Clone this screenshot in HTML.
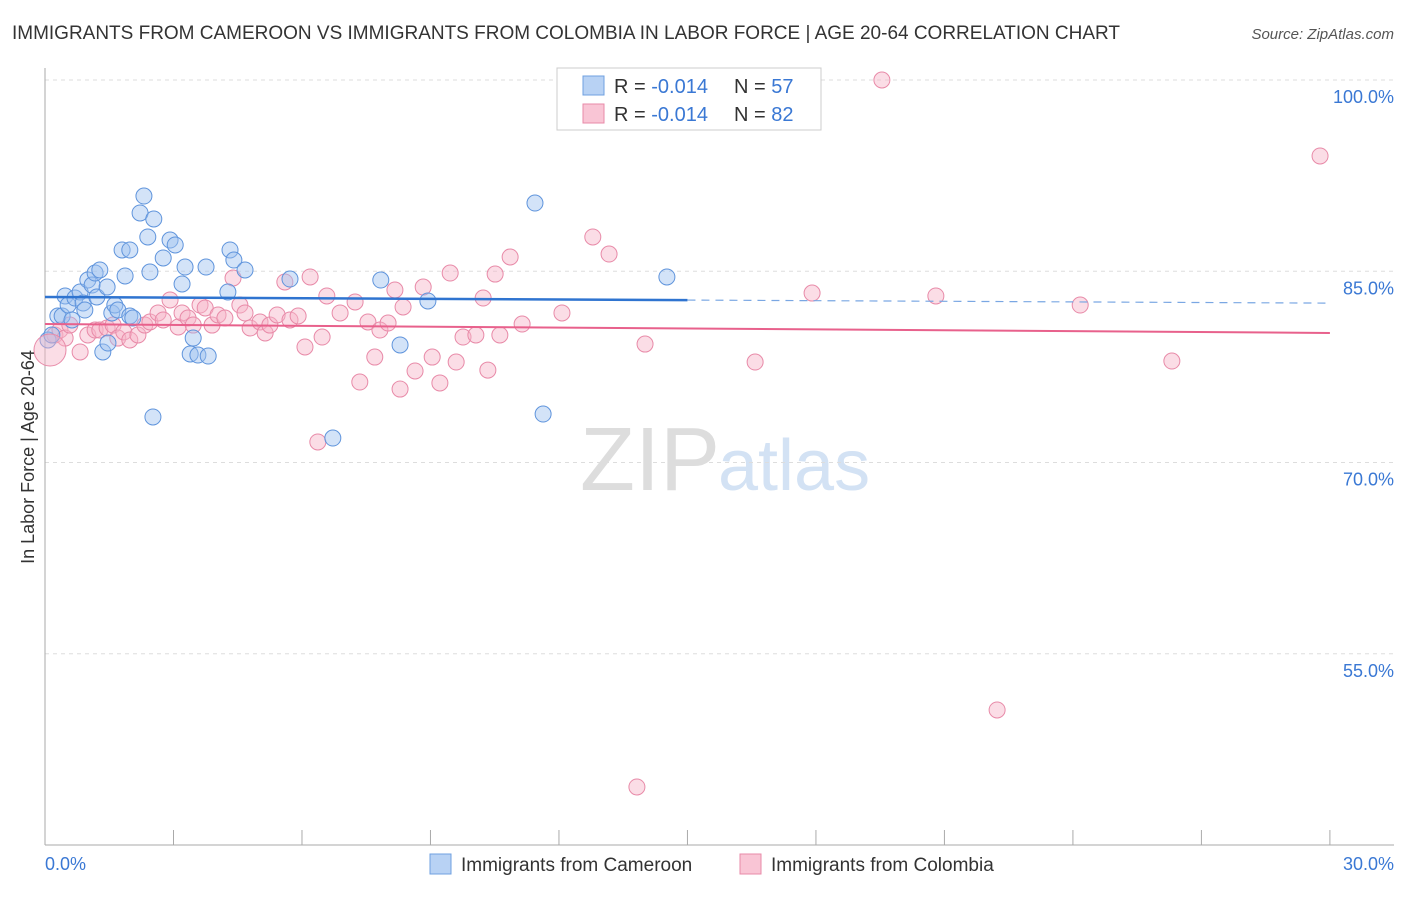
<!DOCTYPE html>
<html><head><meta charset="utf-8"><style>
body{margin:0;background:#fff;font-family:"Liberation Sans",sans-serif;}
svg text{font-family:"Liberation Sans",sans-serif;}
</style></head><body>
<svg id="c" width="1406" height="892">
<text x="12" y="39" font-size="19" fill="#333" textLength="1108">IMMIGRANTS FROM CAMEROON VS IMMIGRANTS FROM COLOMBIA IN LABOR FORCE | AGE 20-64 CORRELATION CHART</text>
<text x="1394" y="39" font-size="15" fill="#555" text-anchor="end" font-style="italic">Source: ZipAtlas.com</text>
<text x="720" y="490" font-size="90" fill="#ddd" text-anchor="end" font-family="Liberation Serif">ZIP</text>
<text x="718" y="490" font-size="72" fill="#d3e2f4">atlas</text>
<g id="grid"></g><g id="axes"></g><g id="pts"></g><g id="lines"></g>
<text transform="translate(34,457) rotate(-90)" font-size="18" fill="#333" text-anchor="middle">In Labor Force | Age 20-64</text>
<text x="45" y="870" font-size="18" fill="#3a78d4">0.0%</text>
<text x="1394" y="870" font-size="18" fill="#3a78d4" text-anchor="end">30.0%</text>
<g>
<rect x="557" y="68" width="264" height="62" fill="#fff" stroke="#ccc"/>
<rect x="583" y="76" width="21" height="19" fill="#b8d2f4" stroke="#6fa0e0"/>
<rect x="583" y="104" width="21" height="19" fill="#f9c5d5" stroke="#e88aa8"/>
<text x="614" y="93" font-size="20" fill="#333">R = <tspan fill="#3a78d4">-0.014</tspan></text>
<text x="734" y="93" font-size="20" fill="#333">N = <tspan fill="#3a78d4">57</tspan></text>
<text x="614" y="121" font-size="20" fill="#333">R = <tspan fill="#3a78d4">-0.014</tspan></text>
<text x="734" y="121" font-size="20" fill="#333">N = <tspan fill="#3a78d4">82</tspan></text>
</g>
<g>
<rect x="430" y="854" width="21" height="20" fill="#b8d2f4" stroke="#6fa0e0"/>
<text x="461" y="871" font-size="19" fill="#333">Immigrants from Cameroon</text>
<rect x="740" y="854" width="21" height="20" fill="#f9c5d5" stroke="#e88aa8"/>
<text x="771" y="871" font-size="19" fill="#333">Immigrants from Colombia</text>
</g>
</svg>
<script>
const yTicks=[100,85,70,55];
const xTicks=[0,3,6,9,12,15,18,21,24,27,30];
const bluePx=[[48,340],[52,335],[58,316],[62,316],[65,296],[68,305],[72,320],[75,298],[80,292],[83,303],[85,310],[88,280],[92,285],[95,273],[97,297],[100,270],[103,352],[108,343],[107,287],[112,313],[115,305],[118,310],[122,250],[125,276],[130,250],[130,316],[133,318],[140,213],[144,196],[148,237],[150,272],[154,219],[153,417],[163,258],[170,240],[175,245],[182,284],[185,267],[190,354],[193,338],[198,355],[206,267],[208,356],[228,292],[230,250],[234,260],[245,270],[290,279],[333,438],[381,280],[400,345],[428,301],[535,203],[543,414],[667,277]];
const pinkPx=[[55,335],[60,330],[65,338],[70,325],[80,352],[88,335],[95,330],[100,330],[107,328],[113,325],[118,338],[124,332],[130,340],[138,335],[145,325],[150,322],[158,313],[163,320],[170,300],[178,327],[182,313],[188,318],[193,325],[200,305],[205,308],[212,325],[218,315],[225,318],[233,278],[240,305],[245,313],[250,328],[260,322],[265,333],[270,325],[277,315],[285,282],[290,320],[298,316],[305,347],[310,277],[318,442],[322,337],[327,296],[340,313],[355,302],[360,382],[368,322],[375,357],[380,330],[388,323],[395,290],[400,389],[403,307],[415,371],[423,287],[432,357],[440,383],[450,273],[456,362],[463,337],[476,335],[483,298],[488,370],[495,274],[500,335],[510,257],[522,324],[562,313],[593,237],[609,254],[645,344],[755,362],[812,293],[882,80],[936,296],[997,710],[1080,305],[1172,361],[1320,156],[637,787]];
const blueX=bluePx.map(p=>+((p[0]-45)/42.83).toFixed(2));
const blueY=bluePx.map(p=>+(100-(p[1]-80)/12.75).toFixed(2));
const pinkX=pinkPx.map(p=>+((p[0]-45)/42.83).toFixed(2));
const pinkY=pinkPx.map(p=>+(100-(p[1]-80)/12.75).toFixed(2));
const blueTrend=[82.98,82.5];
const pinkTrend=[80.86,80.16];
const X=v=>45+v*42.83, Y=v=>80+(100-v)*12.75;
const NS='http://www.w3.org/2000/svg';
function mk(tag,attrs,parent){const e=document.createElementNS(NS,tag);for(const k in attrs)e.setAttribute(k,attrs[k]);document.getElementById(parent).appendChild(e);return e;}
yTicks.forEach(t=>{
 const l=mk('line',{x1:45,x2:1394,y1:Y(t),y2:Y(t),stroke:'#ddd','stroke-dasharray':'4,4'},'grid');
 
 
 const tx=mk('text',{x:1394,y:Y(t)+23,'font-size':18,fill:'#3a78d4','text-anchor':'end'},'grid');
 tx.textContent=t.toFixed(1)+'%';
 
 
});
const ax=mk('line',{x1:45,x2:45,y1:68,y2:845,stroke:'#aaa'},'axes');


const bx=mk('line',{x1:45,x2:1394,y1:845,y2:845,stroke:'#aaa'},'axes');


xTicks.forEach(t=>{const l=mk('line',{x1:X(t),x2:X(t),y1:830,y2:845,stroke:'#aaa'},'axes');
 
 });
function pts(xs,ys,fill,stroke,name){xs.forEach((x,i)=>{const c=mk('circle',{cx:X(x),cy:Y(ys[i]),r:8,fill:fill,'fill-opacity':0.45,stroke:stroke,'stroke-width':1},'pts');
 
 });}
pts(pinkX,pinkY,'#f7b3c8','#e88aa8','colombia-point');
pts(blueX,blueY,'#9dc0ef','#5f94dc','cameroon-point');
const big=mk('circle',{cx:50,cy:350,r:16,fill:'#f7b3c8','fill-opacity':0.45,stroke:'#e88aa8'},'pts');


const mid=blueTrend[0]+(blueTrend[1]-blueTrend[0])/2;
const b1=mk('line',{x1:X(0),y1:Y(blueTrend[0]),x2:X(15),y2:Y(mid),stroke:'#2f74d0','stroke-width':2.5},'lines');


const b2=mk('line',{x1:X(15),y1:Y(mid),x2:X(30),y2:Y(blueTrend[1]),stroke:'#7aa7e3','stroke-width':1.2,'stroke-dasharray':'8,6'},'lines');


const p1=mk('line',{x1:X(0),y1:Y(pinkTrend[0]),x2:X(30),y2:Y(pinkTrend[1]),stroke:'#e8618c','stroke-width':2},'lines');


</script>
</body></html>
